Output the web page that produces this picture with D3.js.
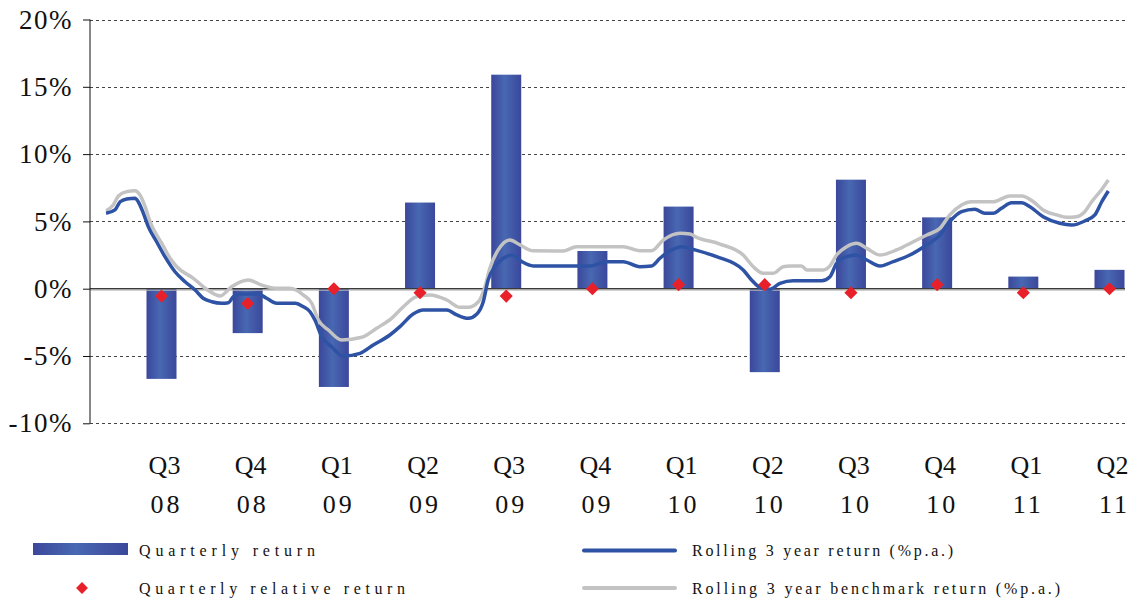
<!DOCTYPE html>
<meta charset="utf-8">
<script src="https://d3js.org/d3.v7.min.js"></script>
<style>
  body { margin: 0; background: #fff; }
  text { font-family: "Liberation Serif", "Times New Roman", serif; fill: #111; }
</style>
<div id="chart"></div>
<script>

// quarters shown on the x axis
var quarters = ["Q3", "Q4", "Q1", "Q2", "Q3", "Q4", "Q1", "Q2", "Q3", "Q4", "Q1", "Q2"];
var years    = ["08", "08", "09", "09", "09", "09", "10", "10", "10", "10", "11", "11"];

// quarterly return (%) and quarterly relative return (%)
var quarterlyReturn = [-6.7, -3.3, -7.3, 6.4, 15.9, 2.8, 6.1, -6.2, 8.1, 5.3, 0.9, 1.4];
var relativeReturn  = [-0.55, -1.1, 0.0, -0.3, -0.55, 0.0, 0.3, 0.3, -0.3, 0.3, -0.3, 0.0];

// rolling 3 year return, [month, %] ; month 0 = Jul 2008
var rolling = [
  [-0.93, 5.6], [-0.62, 5.85], [-0.44, 6.46], [-0.21, 6.67], [0.08, 6.72], [0.19, 6.46],
  [0.37, 5.6], [0.54, 4.61], [0.83, 3.49], [1.12, 2.38], [1.47, 1.26], [1.82, 0.52],
  [2.17, -0.1], [2.45, -0.71], [2.75, -0.97], [3.1, -1.08], [3.33, -1.04], [3.5, -0.59],
  [3.79, -0.39], [4.37, -0.39], [4.66, -0.71], [5.01, -1.08], [5.65, -1.08], [5.94, -1.34],
  [6.17, -1.71], [6.34, -2.33], [6.58, -3.57], [6.92, -4.31], [7.33, -5.0], [7.91, -4.8],
  [8.37, -4.18], [8.95, -3.44], [9.3, -2.82], [9.76, -1.88], [10.11, -1.58], [10.93, -1.58],
  [11.28, -1.95], [11.68, -2.2], [11.97, -1.9], [12.2, -0.97], [12.37, 0.65], [12.61, 1.63],
  [12.9, 2.26], [13.19, 2.5], [13.54, 2.01], [13.94, 1.69], [14.87, 1.69], [15.91, 1.69],
  [16.5, 2.01], [17.07, 2.01], [17.65, 1.63], [18.06, 1.69], [18.35, 2.26], [18.76, 2.88],
  [19.11, 3.12], [19.57, 2.88], [20.32, 2.38], [21.25, 1.39], [21.54, 0.65], [21.89, 0.03],
  [22.18, -0.04], [22.53, 0.4], [22.99, 0.59], [23.98, 0.59], [24.27, 0.89], [24.5, 1.89],
  [24.85, 2.38], [25.2, 2.5], [25.55, 2.13], [26.01, 1.69], [26.47, 2.01], [27.05, 2.5],
  [27.63, 3.25], [28.1, 3.99], [28.44, 4.98], [28.85, 5.72], [29.31, 5.9], [29.66, 5.6],
  [29.95, 5.6], [30.24, 5.97], [30.59, 6.39], [30.94, 6.39], [31.23, 6.09], [31.69, 5.35],
  [32.27, 4.86], [32.68, 4.73], [33.14, 5.03], [33.49, 5.48], [33.73, 6.46], [33.96, 7.26]
];

// rolling 3 year benchmark return, [month, %]
var benchmark = [
  [-0.93, 5.79], [-0.68, 6.22], [-0.5, 6.89], [-0.21, 7.21], [0.08, 7.28], [0.25, 6.96],
  [0.43, 6.09], [0.6, 4.98], [1.01, 3.37], [1.3, 2.26], [1.53, 1.63], [2.11, 0.77],
  [2.57, -0.04], [3.04, -0.54], [3.44, 0.15], [4.02, 0.65], [4.49, 0.27], [5.01, 0.03],
  [5.47, 0.03], [5.94, -0.47], [6.23, -1.08], [6.46, -2.33], [6.81, -3.07], [7.27, -3.81],
  [7.97, -3.61], [8.49, -2.94], [9.01, -2.2], [9.42, -1.34], [9.88, -0.59], [10.35, -0.47],
  [10.93, -0.84], [11.39, -1.38], [11.68, -1.38], [12.03, -0.97], [12.26, 0.15], [12.43, 1.52],
  [12.72, 2.88], [13.13, 3.62], [13.48, 3.25], [13.94, 2.82], [14.98, 2.8], [15.45, 3.12],
  [17.07, 3.12], [17.65, 2.82], [18.06, 2.82], [18.47, 3.62], [19.05, 4.12], [19.4, 4.06],
  [19.63, 3.82], [20.44, 3.32], [21.25, 2.5], [21.6, 1.63], [21.95, 1.14], [22.29, 1.14],
  [22.64, 1.63], [22.88, 1.69], [23.28, 1.69], [23.46, 1.39], [24.04, 1.39], [24.27, 1.69],
  [24.5, 2.5], [24.85, 3.12], [25.2, 3.37], [25.55, 3.0], [26.01, 2.5], [26.59, 2.88],
  [27.17, 3.49], [27.64, 3.99], [28.1, 4.49], [28.44, 5.48], [28.85, 6.22], [29.2, 6.46],
  [29.95, 6.46], [30.53, 6.89], [30.94, 6.89], [31.35, 6.46], [31.69, 5.85], [32.16, 5.48],
  [32.51, 5.3], [32.85, 5.35], [33.14, 5.72], [33.38, 6.46], [33.67, 7.21], [33.96, 8.08]
];

var yTicks = [-10, -5, 0, 5, 10, 15, 20];

var width = 1133, height = 601;
var plotLeft = 90, plotRight = 1125;

var svg = d3.select("#chart").append("svg")
  .attr("width", width)
  .attr("height", height);

// bar gradient: darker edges, lighter middle
var defs = svg.append("defs");
var grad = defs.append("linearGradient").attr("id", "barGrad")
  .attr("x1", "0%").attr("x2", "100%").attr("y1", "0%").attr("y2", "0%");
grad.append("stop").attr("offset", "0%").attr("stop-color", "#3b479b");
grad.append("stop").attr("offset", "45%").attr("stop-color", "#4868b2");
grad.append("stop").attr("offset", "100%").attr("stop-color", "#3b479b");

// scales: month index -> x, percent -> y
var x = d3.scaleLinear().domain([1, 34]).range([161.5, 1109.5]);
var y = d3.scaleLinear().domain([-10, 20]).range([423.3, 19.5]);
var barMonth = function(i) { return 1 + 3 * i; };
var barW = 30;

// gridlines
svg.append("g").selectAll("line")
  .data(yTicks.filter(function(d) { return d !== 0; }))
  .enter().append("line")
    .attr("x1", plotLeft).attr("x2", plotRight)
    .attr("y1", function(d) { return Math.round(y(d)) + 0.5; })
    .attr("y2", function(d) { return Math.round(y(d)) + 0.5; })
    .attr("stroke", "#444")
    .attr("stroke-width", 1)
    .attr("stroke-dasharray", "3,3");

// bars
svg.append("g").selectAll("rect")
  .data(quarterlyReturn)
  .enter().append("rect")
    .attr("x", function(d, i) { return x(barMonth(i)) - barW / 2; })
    .attr("width", barW)
    .attr("y", function(d) { return y(Math.max(0, d)); })
    .attr("height", function(d) { return Math.abs(y(d) - y(0)); })
    .attr("fill", "url(#barGrad)");

// zero line
svg.append("line")
  .attr("x1", plotLeft).attr("x2", plotRight)
  .attr("y1", y(0)).attr("y2", y(0))
  .attr("stroke", "#3a3a3a").attr("stroke-width", 1.5);
svg.append("line")
  .attr("x1", plotLeft).attr("x2", plotRight)
  .attr("y1", y(0) + 1.5).attr("y2", y(0) + 1.5)
  .attr("stroke", "#bbb").attr("stroke-width", 1);

// y axis
var yAxis = d3.axisLeft(y)
  .tickValues(yTicks)
  .tickSize(7)
  .tickPadding(10)
  .tickFormat(function(d) { return d + "%"; });
var gy = svg.append("g")
  .attr("transform", "translate(" + plotLeft + ",0)")
  .call(yAxis);
gy.select(".domain").attr("stroke", "#111").attr("d", "M0," + y(20) + "V" + y(-10));
gy.selectAll(".tick line").attr("stroke", "#111");
gy.selectAll("text")
  .attr("font-family", "Liberation Serif, serif")
  .attr("font-size", 27)
  .attr("letter-spacing", 1.5)
  .attr("fill", "#111");

// lines
var line = d3.line()
  .x(function(d) { return x(d[0]); })
  .y(function(d) { return y(d[1]); })
  .curve(d3.curveMonotoneX);

svg.append("path")
  .datum(benchmark)
  .attr("d", line)
  .attr("fill", "none")
  .attr("stroke", "#c3c3c3")
  .attr("stroke-width", 3.5)
  .attr("stroke-linejoin", "round");

svg.append("path")
  .datum(rolling)
  .attr("d", line)
  .attr("fill", "none")
  .attr("stroke", "#2e53a5")
  .attr("stroke-width", 3.5)
  .attr("stroke-linejoin", "round");

// relative return diamonds
var diamond = d3.symbol().type(d3.symbolDiamond2).size(110);
svg.append("g").selectAll("path")
  .data(relativeReturn)
  .enter().append("path")
    .attr("d", diamond)
    .attr("transform", function(d, i) { return "translate(" + x(barMonth(i)) + "," + y(d) + ")"; })
    .attr("fill", "#e8202a");

// category labels
var cats = svg.append("g");
cats.selectAll(".q")
  .data(quarters)
  .enter().append("text")
    .attr("x", function(d, i) { return x(barMonth(i)) + 3; })
    .attr("y", 474)
    .attr("text-anchor", "middle")
    .attr("font-size", 26)
    .text(function(d) { return d; });
cats.selectAll(".yr")
  .data(years)
  .enter().append("text")
    .attr("x", function(d, i) { return x(barMonth(i)) + 5; })
    .attr("y", 513)
    .attr("text-anchor", "middle")
    .attr("font-size", 26)
    .attr("letter-spacing", 3)
    .text(function(d) { return d; });

// legend
var leg = svg.append("g");
leg.append("rect")
  .attr("x", 33).attr("y", 543).attr("width", 95).attr("height", 12)
  .attr("fill", "url(#barGrad)");
leg.append("path")
  .attr("d", d3.symbol().type(d3.symbolDiamond2).size(90))
  .attr("transform", "translate(82,588)")
  .attr("fill", "#e8202a");
leg.append("line")
  .attr("x1", 584).attr("x2", 675).attr("y1", 550.5).attr("y2", 550.5)
  .attr("stroke", "#2e53a5").attr("stroke-width", 4).attr("stroke-linecap", "round");
leg.append("line")
  .attr("x1", 584).attr("x2", 675).attr("y1", 588).attr("y2", 588)
  .attr("stroke", "#c3c3c3").attr("stroke-width", 4).attr("stroke-linecap", "round");

var legText = [
  {t: "Quarterly return", x: 139, y: 556, w: 176},
  {t: "Quarterly relative return", x: 139, y: 594, w: 266},
  {t: "Rolling 3 year return (%p.a.)", x: 692, y: 556, w: 261},
  {t: "Rolling 3 year benchmark return (%p.a.)", x: 692, y: 594, w: 368}
];
leg.selectAll("text")
  .data(legText)
  .enter().append("text")
    .attr("x", function(d) { return d.x; })
    .attr("y", function(d) { return d.y; })
    .attr("font-size", 16)
    .attr("textLength", function(d) { return d.w; })
    .attr("lengthAdjust", "spacing")
    .text(function(d) { return d.t; });

</script>
